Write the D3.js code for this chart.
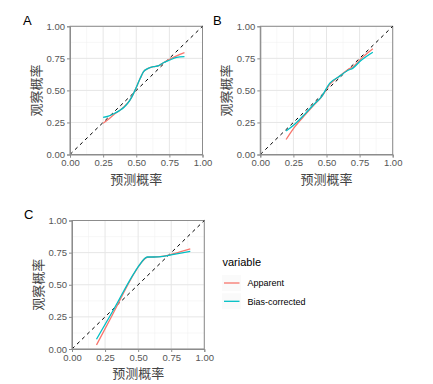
<!DOCTYPE html>
<html><head><meta charset="utf-8">
<script src="https://cdn.jsdelivr.net/npm/d3@7/dist/d3.min.js"></script>
<style>body{margin:0;background:#fff}svg{display:block}</style>
</head><body><svg id="c" width="433" height="384"></svg>
<script>
const seriesNames = ["Apparent", "Bias-corrected"];
const seriesColors = ["#F8766D", "#00BFC4"];
const tickValues = [0, 0.25, 0.5, 0.75, 1];
const tickLabels = ["0.00", "0.25", "0.50", "0.75", "1.00"];
const xTitle = "预测概率", yTitle = "观察概率";

// Panel A
const aX = [0.25, 0.29, 0.33, 0.37, 0.41, 0.45, 0.48, 0.50, 0.53, 0.555, 0.59, 0.63, 0.67, 0.705, 0.755, 0.805, 0.864];
const aApparent = [0.243, 0.275, 0.31, 0.34, 0.375, 0.42, 0.477, 0.523, 0.594, 0.646, 0.672, 0.685, 0.693, 0.716, 0.745, 0.77, 0.794];
const aBias = [0.29, 0.3, 0.318, 0.34, 0.37, 0.42, 0.477, 0.523, 0.594, 0.646, 0.672, 0.685, 0.693, 0.716, 0.737, 0.758, 0.763];
// Panel B
const bX = [0.195, 0.26, 0.34, 0.41, 0.46, 0.525, 0.59, 0.66, 0.70, 0.76, 0.85];
const bApparent = [0.117, 0.215, 0.311, 0.391, 0.445, 0.547, 0.604, 0.661, 0.685, 0.746, 0.824];
const bBias = [0.184, 0.236, 0.319, 0.396, 0.448, 0.557, 0.604, 0.655, 0.674, 0.733, 0.798];
// Panel C
const cX = [0.185, 0.3, 0.48, 0.505, 0.57, 0.62, 0.69, 0.77, 0.894];
const cApparent = [0.031, 0.255, 0.605, 0.645, 0.714, 0.716, 0.722, 0.742, 0.779];
const cBias = [0.0755, 0.28, 0.608, 0.646, 0.716, 0.716, 0.721, 0.737, 0.76];

const panels = [
  {label: "A", x: aX, ys: [aApparent, aBias], box: [70, 202.5, 26.3, 154.5], lx: 23, ly: 25},
  {label: "B", x: bX, ys: [bApparent, bBias], box: [260.3, 392.7, 26.3, 154.5], lx: 213, ly: 25},
  {label: "C", x: cX, ys: [cApparent, cBias], box: [72, 204.3, 220.5, 349], lx: 24, ly: 219}
];

const svg = d3.select("#c");
const fontLat = "Arial, 'Liberation Sans', sans-serif";
const fontCJK = "'Noto Sans CJK SC', sans-serif";

panels.forEach(p => {
  const [x0, x1, y0, y1] = p.box;
  const xs = d3.scaleLinear().domain([0, 1]).range([x0, x1]);
  const ys = d3.scaleLinear().domain([0, 1]).range([y1, y0]);
  const g = svg.append("g");
  const minor = [0.125, 0.375, 0.625, 0.875];
  g.selectAll(".mx").data(minor).enter().append("line")
    .attr("x1", d => xs(d)).attr("x2", d => xs(d)).attr("y1", y0).attr("y2", y1)
    .attr("stroke", "#f2f2f2").attr("stroke-width", 0.6);
  g.selectAll(".my").data(minor).enter().append("line")
    .attr("y1", d => ys(d)).attr("y2", d => ys(d)).attr("x1", x0).attr("x2", x1)
    .attr("stroke", "#f2f2f2").attr("stroke-width", 0.6);
  g.selectAll(".gx").data(tickValues).enter().append("line")
    .attr("x1", d => xs(d)).attr("x2", d => xs(d)).attr("y1", y0).attr("y2", y1)
    .attr("stroke", "#e6e6e6").attr("stroke-width", 1);
  g.selectAll(".gy").data(tickValues).enter().append("line")
    .attr("y1", d => ys(d)).attr("y2", d => ys(d)).attr("x1", x0).attr("x2", x1)
    .attr("stroke", "#e6e6e6").attr("stroke-width", 1);
  g.append("rect").attr("x", x0).attr("y", y0).attr("width", x1 - x0).attr("height", y1 - y0)
    .attr("fill", "none").attr("stroke", "#8c8c8c").attr("stroke-width", 1);
  g.append("line").attr("x1", xs(0)).attr("y1", ys(0)).attr("x2", xs(1)).attr("y2", ys(1))
    .attr("stroke", "#000").attr("stroke-width", 1).attr("stroke-dasharray", "3.5,3.5");
  const line = d3.line().x(d => xs(d[0])).y(d => ys(d[1])).curve(d3.curveMonotoneX);
  p.ys.forEach((vals, i) => {
    g.append("path").datum(p.x.map((v, j) => [v, vals[j]]))
      .attr("d", line).attr("fill", "none").attr("stroke", seriesColors[i])
      .attr("stroke-width", 1.3);
  });
  const ax = g.append("g").attr("transform", `translate(0,${y1})`)
    .call(d3.axisBottom(xs).tickValues(tickValues).tickFormat((d, i) => tickLabels[i]).tickSize(3).tickPadding(2));
  const ay = g.append("g").attr("transform", `translate(${x0},0)`)
    .call(d3.axisLeft(ys).tickValues(tickValues).tickFormat((d, i) => tickLabels[i]).tickSize(3).tickPadding(2));
  [ax, ay].forEach(a => {
    a.select(".domain").attr("stroke", "#8c8c8c");
    a.selectAll(".tick line").attr("stroke", "#8c8c8c");
    a.selectAll("text").attr("fill", "#555").attr("font-size", 9.5).attr("font-family", fontLat);
  });
  g.append("text").attr("x", (x0 + x1) / 2).attr("y", y1 + 29).attr("text-anchor", "middle")
    .attr("font-family", fontCJK).attr("font-size", 13).attr("fill", "#444").text(xTitle);
  g.append("text").attr("transform", `translate(${x0 - 29},${(y0 + y1) / 2}) rotate(-90)`)
    .attr("text-anchor", "middle").attr("font-family", fontCJK).attr("font-size", 13)
    .attr("fill", "#444").text(yTitle);
  g.append("text").attr("x", p.lx).attr("y", p.ly).attr("font-family", fontLat)
    .attr("font-size", 13).attr("fill", "#000").text(p.label);
});

const lg = svg.append("g");
lg.append("text").attr("x", 222.5).attr("y", 266).attr("font-family", fontLat)
  .attr("font-size", 11).attr("fill", "#000").text("variable");
seriesNames.forEach((n, i) => {
  const cy = 283 + i * 18.3;
  lg.append("rect").attr("x", 222).attr("y", cy - 8).attr("width", 19).attr("height", 16).attr("fill", "#fafafa");
  lg.append("line").attr("x1", 224).attr("x2", 239.5).attr("y1", cy).attr("y2", cy)
    .attr("stroke", seriesColors[i]).attr("stroke-width", 1.3);
  lg.append("text").attr("x", 247.5).attr("y", cy + 3.3).attr("font-family", fontLat)
    .attr("font-size", 9).attr("fill", "#000").text(n);
});
</script></body></html>
